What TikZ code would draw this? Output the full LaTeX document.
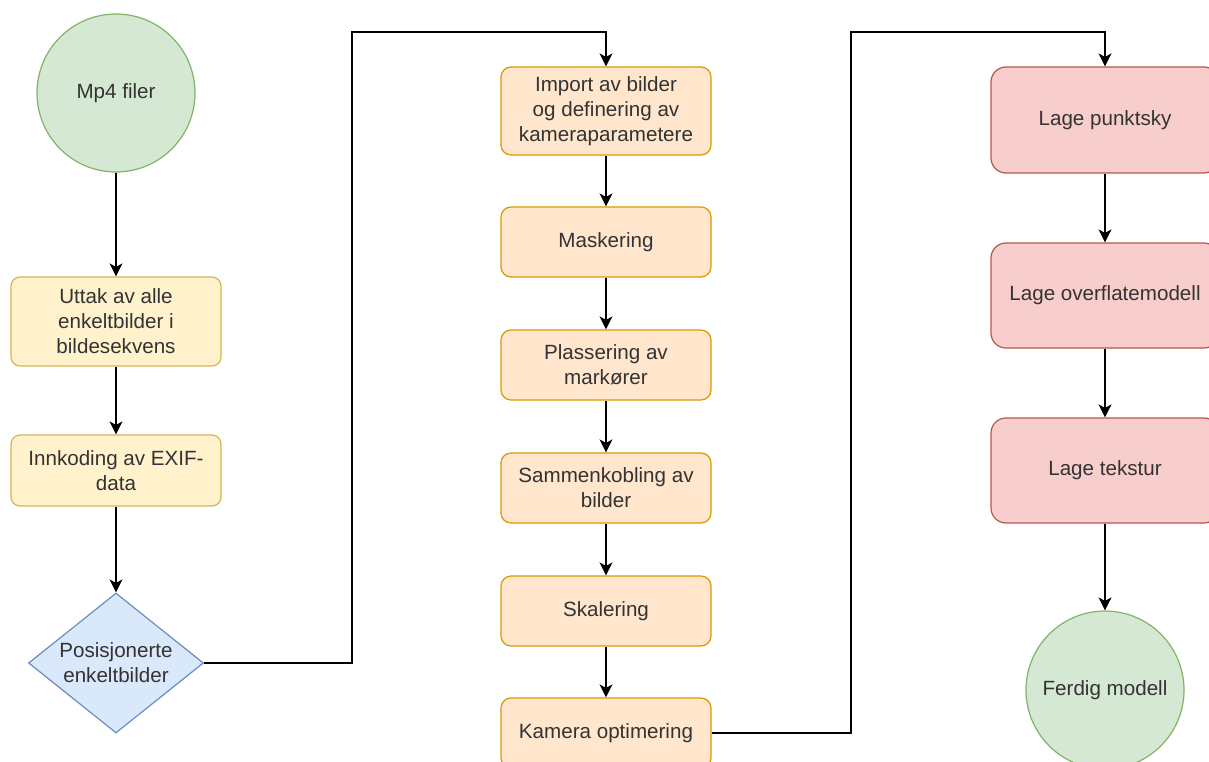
\documentclass[tikz,border=0pt]{standalone}
\usepackage{fontspec}
\setmainfont{Liberation Sans}
\usetikzlibrary{shapes.geometric}
\usetikzlibrary{arrows.meta}

\definecolor{grfill}{HTML}{D5E8D4}
\definecolor{grline}{HTML}{82B366}
\definecolor{yefill}{HTML}{FFF2CC}
\definecolor{yeline}{HTML}{D6B656}
\definecolor{orfill}{HTML}{FFE6CC}
\definecolor{orline}{HTML}{D79B00}
\definecolor{rdfill}{HTML}{F8CECC}
\definecolor{rdline}{HTML}{B85450}
\definecolor{blfill}{HTML}{DAE8FC}
\definecolor{blline}{HTML}{6C8EBF}

\begin{document}
\begin{tikzpicture}[x=1pt,y=-1pt,
  >={Stealth[length=13pt,width=13pt,inset=3.5pt]},
  every node/.style={font=\fontsize{20.6}{25}\selectfont,text=black!80,align=center,line width=1.2pt},
  endpunkt/.style={circle,draw=grline,fill=grfill,minimum size=158pt,inner sep=0pt},
  gulboks/.style={rectangle,rounded corners=9pt,draw=yeline,fill=yefill,minimum width=210pt,inner sep=0pt},
  oransjeboks/.style={rectangle,rounded corners=10pt,draw=orline,fill=orfill,minimum width=210pt,inner sep=0pt},
  rodboks/.style={rectangle,rounded corners=15pt,draw=rdline,fill=rdfill,minimum width=228pt,minimum height=105pt,inner sep=0pt},
  valg/.style={diamond,aspect=1.25,draw=blline,fill=blfill,inner sep=0pt,minimum width=175pt,minimum height=140pt}]
            \path[use as bounding box,clip] (0,0) rectangle (1209,762);
            % kolonne 1
            \node[endpunkt] (mp4) at (116,93) {Mp4 filer};
            \node[gulboks,minimum height=89pt] (uttak) at (116,321.5) {Uttak av alle\\enkeltbilder i\\bildesekvens};
            \node[gulboks,minimum height=71pt] (exif) at (116,470.5) {Innkoding av EXIF-\\data};
            \node[valg] (pos) at (116,663) {Posisjonerte\\enkeltbilder};
            % kolonne 2
            \node[oransjeboks,minimum height=88pt] (import) at (606,111) {Import av bilder\\og definering av\\kameraparametere};
            \node[oransjeboks,minimum height=70pt] (mask) at (606,242) {Maskering};
            \node[oransjeboks,minimum height=70pt] (mark) at (606,365) {Plassering av\\markører};
            \node[oransjeboks,minimum height=70pt] (samm) at (606,488) {Sammenkobling av\\bilder};
            \node[oransjeboks,minimum height=70pt] (skal) at (606,611) {Skalering};
            \node[oransjeboks,minimum height=70pt] (kam) at (606,733) {Kamera optimering};
            % kolonne 3
            \node[rodboks,minimum height=106pt] (sky) at (1105,120) {Lage punktsky};
            \node[rodboks] (flate) at (1105,295.5) {Lage overflatemodell};
            \node[rodboks] (tekst) at (1105,470.5) {Lage tekstur};
            \node[endpunkt] (ferdig) at (1105,690) {Ferdig modell};
            % knekkpunkter
            \coordinate (k1) at (352,32);
            \coordinate (k2) at (851,32);
            % piler
            \draw[->,line width=1.3pt] (mp4) -- (uttak);
            \draw[->,line width=1.3pt] (uttak) -- (exif);
            \draw[->,line width=1.3pt] (exif) -- (pos);
            \draw[->,line width=1.3pt] (pos.east) -| (k1) -| (import.north);
            \draw[->,line width=1.3pt] (import) -- (mask);
            \draw[->,line width=1.3pt] (mask) -- (mark);
            \draw[->,line width=1.3pt] (mark) -- (samm);
            \draw[->,line width=1.3pt] (samm) -- (skal);
            \draw[->,line width=1.3pt] (skal) -- (kam);
            \draw[->,line width=1.3pt] (kam.east) -| (k2) -| (sky.north);
            \draw[->,line width=1.3pt] (sky) -- (flate);
            \draw[->,line width=1.3pt] (flate) -- (tekst);
            \draw[->,line width=1.3pt] (tekst) -- (ferdig);
\end{tikzpicture}
\end{document}
